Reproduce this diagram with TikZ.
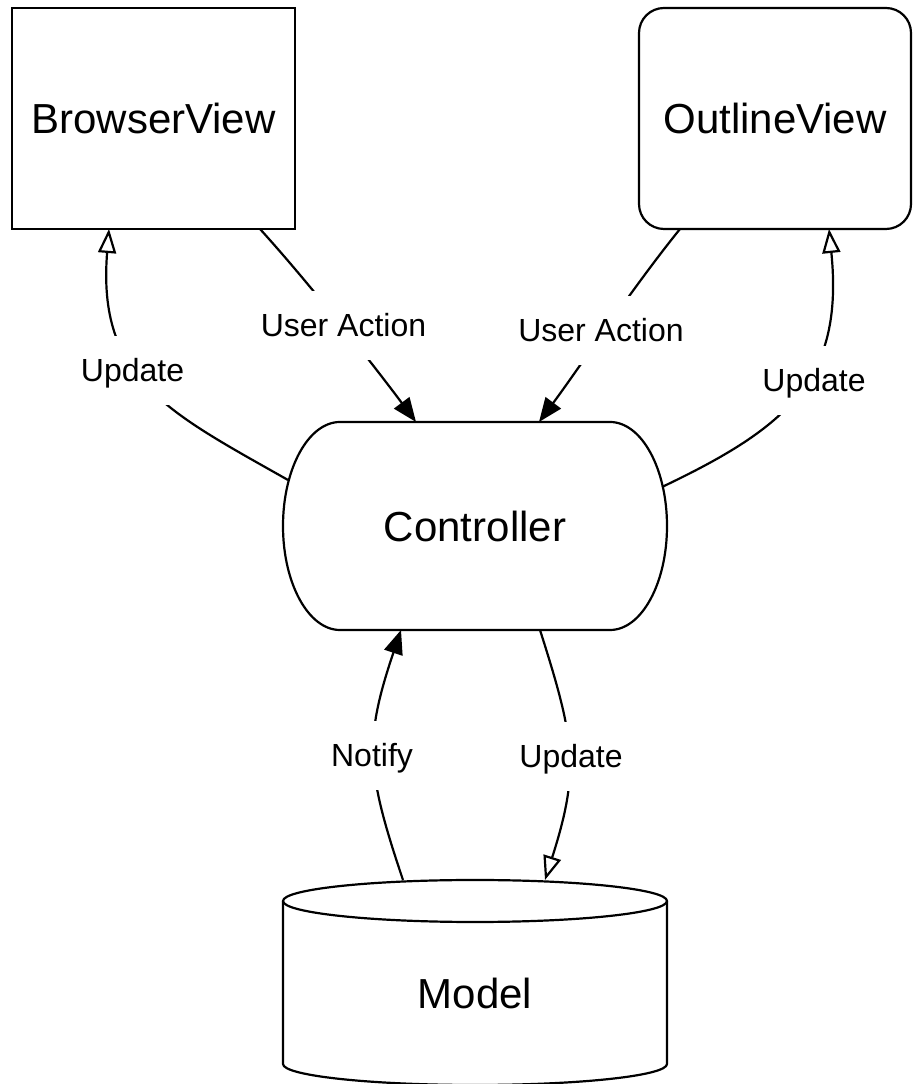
\documentclass[tikz,border=0pt]{standalone}
\usepackage{fontspec}
\setmainfont{Liberation Sans}
\usetikzlibrary{arrows.meta}

\tikzset{
  titlefont/.style={font=\fontsize{42}{50}\selectfont},
  viewbox/.style={draw, line width=2.2pt, titlefont, inner sep=0pt, outer sep=0pt,
                  minimum width=283pt, minimum height=221pt},
  plainbox/.style={titlefont, inner sep=0pt, outer sep=0pt},
  flowlabel/.style={fill=white, font=\fontsize{32}{38}\selectfont, anchor=base,
                    text height=30pt, text depth=7pt, inner ysep=16pt, inner xsep=3pt},
  conn/.style={line width=2.2pt},
  solidhead/.style={conn, -{Triangle[length=24pt, width=19pt]}},
  openhead/.style={conn, -{Triangle[open, length=24pt, width=18pt]}},
}

\begin{document}
\begin{tikzpicture}[x=1pt, y=1pt]
\fill[white] (0,0) rectangle (916,1084);
\useasboundingbox (0,0) rectangle (916,1084);

% views
\node[viewbox] (bv) at (153.5,965.5) {BrowserView};
\node[viewbox, rounded corners=25pt, minimum width=272pt] (ov) at (775,965.5) {OutlineView};

% controller: flat top and bottom, elliptic ends
\node[plainbox, minimum width=384pt, minimum height=208pt] (ctrl) at (475,558) {Controller};
\draw[line width=2.2pt] ([xshift=57pt]ctrl.north west) -- ([xshift=-57pt]ctrl.north east)
  arc[start angle=90, end angle=-90, x radius=57pt, y radius=104pt]
  -- ([xshift=57pt]ctrl.south west)
  arc[start angle=270, end angle=90, x radius=57pt, y radius=104pt] -- cycle;

% model: cylinder
\node[plainbox, minimum width=384pt, minimum height=226pt] (model) at (475,91) {Model};
\draw[line width=2.2pt] (283,183) -- (283,20)
  arc[start angle=180, end angle=360, x radius=192pt, y radius=21pt] -- (667,183);
\draw[line width=2.2pt] (475,183) ellipse [x radius=192pt, y radius=21pt];

% connectors
\draw[openhead] ([shift={(-187pt,46pt)}]ctrl.center)
  .. controls +(-120,68) and +(-12,-150) .. ([xshift=-44.5pt]bv.south);
\draw[solidhead] ([xshift=106.5pt]bv.south)
  .. controls +(50,-55) and +(-41,55) .. ([xshift=-59pt]ctrl.north);
\draw[solidhead] ([xshift=-95pt]ov.south)
  .. controls +(-47,-58) and +(38,51) .. ([xshift=64pt]ctrl.north);
\draw[openhead] ([shift={(187pt,39pt)}]ctrl.center)
  .. controls +(126,60) and +(15,-150) .. ([xshift=54pt]ov.south);
\draw[solidhead] ([xshift=-72pt]model.north)
  .. controls +(-37,110) and +(-37,-110) .. ([xshift=-74pt]ctrl.south);
\draw[openhead] ([xshift=65pt]ctrl.south)
  .. controls +(35,-110) and +(35,110) .. ([xshift=70pt]model.north);

% connector labels
\node[flowlabel] (lbupd) at (132.5,702) {Update};
\node[flowlabel] (lbact) at (343.5,747) {User Action};
\node[flowlabel] (loact) at (601,742) {User Action};
\node[flowlabel] (loupd) at (814,692) {Update};
\node[flowlabel] (lnotify) at (372,317) {Notify};
\node[flowlabel] (lmupd) at (571,316) {Update};
\end{tikzpicture}
\end{document}
